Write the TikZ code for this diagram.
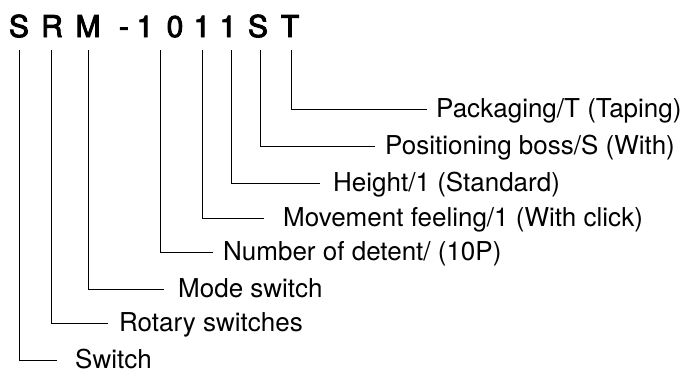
\documentclass[tikz,border=0pt]{standalone}
\usepackage{fontspec}
\setmainfont{TeX Gyre Heros}
\newfontfamily\codefont[FakeBold=3]{TeX Gyre Heros}
\usetikzlibrary{positioning,calc}

\begin{document}
\begin{tikzpicture}[x=1pt, y=-1pt,
    code/.style={anchor=base, inner sep=0pt, font=\codefont\fontsize{30}{34}\selectfont},
    lbl/.style={anchor=west, inner sep=0pt, text height=16pt, text depth=0pt,
                font=\fontsize{26}{30}\selectfont},
    leader/.style={line width=0.9pt}]
    \useasboundingbox (0,0) rectangle (686,372);

    % Part number, one node per character
    \foreach \ch/\cx [count=\i] in {S/19, R/52, M/88, -/124, 1/145, 0/175, 1/202, 1/228, S/258, T/290}
        \node[code] (ch\i) at (\cx,37) {\ch};

    % Top ends of the leaders
    \coordinate (topSw)  at (19,50);
    \coordinate (topRot) at (51,50);
    \coordinate (topMod) at (88,50);
    \coordinate (topDet) at (160,50);
    \coordinate (topMov) at (202,50);
    \coordinate (topHei) at (231,50);
    \coordinate (topPos) at (260,50);
    \coordinate (topPac) at (291,50);

    % Labels
    \node[lbl] (pack)   at (436,109) {Packaging/T (Taping)};
    \node[lbl] (boss)   at (385,146) {Positioning boss/S (With)};
    \node[lbl] (height) at (333,183) {Height/1 (Standard)};
    \node[lbl] (move)   at (283,218) {Movement feeling/1 (With click)};
    \node[lbl] (detent) at (223,252) {Number of detent/ (10P)};
    \node[lbl] (mode)   at (178,289) {Mode switch};
    \node[lbl] (rotary) at (119,323) {Rotary switches};
    \node[lbl] (switch) at (75,360)  {Switch};

    % Leaders
    \draw[leader, shorten >=9pt]  (topPac) |- (pack.west);
    \draw[leader, shorten >=10pt] (topPos) |- (boss.west);
    \draw[leader, shorten >=13pt] (topHei) |- (height.west);
    \draw[leader, shorten >=19pt] (topMov) |- (move.west);
    \draw[leader, shorten >=10pt] (topDet) |- (detent.west);
    \draw[leader, shorten >=14pt] (topMod) |- (mode.west);
    \draw[leader, shorten >=11pt] (topRot) |- (rotary.west);
    \draw[leader, shorten >=18pt] (topSw)  |- (switch.west);
\end{tikzpicture}
\end{document}
